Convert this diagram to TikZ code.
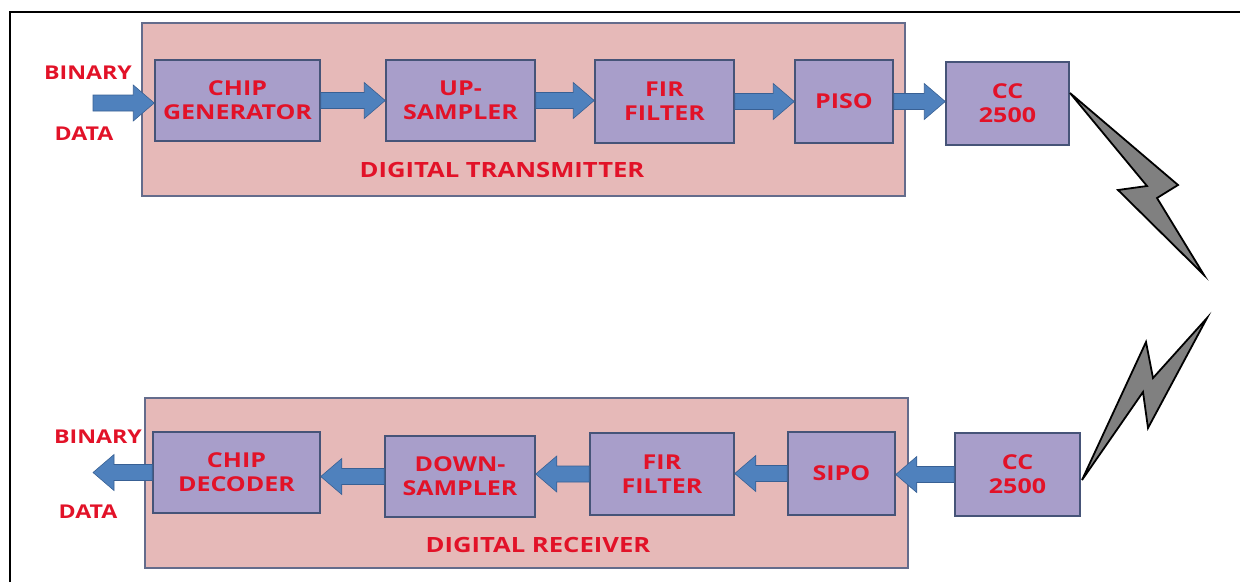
\documentclass[tikz,border=0pt]{standalone}
\usepackage{fontspec}
\setmainfont{Open Sans}[FakeStretch=1.22]
\usetikzlibrary{calc}

\definecolor{bigfill}{RGB}{230,185,184}
\definecolor{bigline}{RGB}{100,108,140}
\definecolor{boxfill}{RGB}{168,158,202}
\definecolor{boxline}{RGB}{70,84,120}
\definecolor{arrowfill}{RGB}{79,129,189}
\definecolor{arrowline}{RGB}{56,96,148}
\definecolor{labelred}{RGB}{226,18,40}
\definecolor{boltfill}{RGB}{128,128,128}

\tikzset{
  block/.style={draw=bigline, fill=bigfill, line width=1.5pt, inner sep=0pt},
  stage/.style={draw=boxline, fill=boxfill, line width=1.5pt, inner sep=0pt, align=center,
    text=labelred, font=\fontsize{20.5}{24}\selectfont\bfseries},
  redlbl/.style={text=labelred, inner sep=0pt, font=\fontsize{19}{23}\selectfont\bfseries},
  titlelbl/.style={text=labelred, inner sep=0pt, font=\fontsize{21}{25}\selectfont\bfseries},
  fatarrow/.style={draw=arrowline, fill=arrowfill, line width=0.6pt,
    to path={let \p1=(\tikztostart), \p2=(\tikztotarget),
      \n1={\x2>\x1 ? \x2-21pt : \x2+21pt} in
      (\x1,\y1+8pt) -- ({\n1*1pt},\y1+8pt) -- ({\n1*1pt},\y1+18pt) -- (\x2,\y1)
      -- ({\n1*1pt},\y1-18pt) -- ({\n1*1pt},\y1-8pt) -- (\x1,\y1-8pt) -- cycle}},
  bolt/.style={draw=black, fill=boltfill, line width=1.8pt, line join=miter}
}

\begin{document}
\begin{tikzpicture}[x=1pt,y=1pt,yscale=-1,xscale=1]
\useasboundingbox (0,0) rectangle (1240,582);

%Frame
\draw [line width=2pt] (10,582) -- (10,12) -- (1240,12) ;

%Shape: Rectangle -- transmitter
\node [block, minimum width=763pt, minimum height=173pt] (tx) at (523.5,109.5) {};
\node [stage, minimum width=165pt, minimum height=81pt] (chipgen) at (237.5,100.5) {CHIP\\GENERATOR};
\node [stage, minimum width=149pt, minimum height=81pt] (upsamp) at (460.5,100.5) {UP-\\SAMPLER};
\node [stage, minimum width=139pt, minimum height=83pt] (firtx) at (664.5,101.5) {FIR\\FILTER};
\node [stage, minimum width=98pt, minimum height=83pt] (piso) at (844,101.5) {PISO};
\node [stage, minimum width=123pt, minimum height=83pt] (cctx) at (1007.5,103.5) {CC\\2500};

%Shape: Rectangle -- receiver
\node [block, minimum width=763pt, minimum height=170pt] (rx) at (526.5,483) {};
\node [stage, minimum width=167pt, minimum height=81pt] (chipdec) at (236.5,472.5) {CHIP\\DECODER};
\node [stage, minimum width=150pt, minimum height=81pt] (downsamp) at (460,476.5) {DOWN-\\SAMPLER};
\node [stage, minimum width=144pt, minimum height=82pt] (firrx) at (662,474) {FIR\\FILTER};
\node [stage, minimum width=107pt, minimum height=83pt] (sipo) at (841.5,473.5) {SIPO};
\node [stage, minimum width=125pt, minimum height=83pt] (ccrx) at (1017.5,474.5) {CC\\2500};

% Text Node
\node [redlbl] (bintx) at (88,73) {BINARY};
\node [redlbl] (datatx) at (84,134) {DATA};
\node [redlbl] (binrx) at (98,437) {BINARY};
\node [redlbl] (datarx) at (88,512) {DATA};
\node [titlelbl] (txlbl) at (502,170) {DIGITAL TRANSMITTER};
\node [titlelbl] (rxlbl) at (538,545) {DIGITAL RECEIVER};

%Block arrows
\coordinate (datain) at (93,103);
\coordinate (dataout) at (93,476);
\draw [fatarrow] (datain) to (chipgen.west);
\draw [fatarrow] (chipgen.east) to (upsamp.west);
\draw [fatarrow] (upsamp.east) to (firtx.west);
\draw [fatarrow] (firtx.east) to (piso.west);
\draw [fatarrow] (piso.east) to (cctx.west);
\draw [fatarrow] (ccrx.west) to (sipo.east);
\draw [fatarrow] (sipo.west) to (firrx.east);
\draw [fatarrow] (firrx.west) to (downsamp.east);
\draw [fatarrow] (downsamp.west) to (chipdec.east);
\draw [fatarrow] (chipdec.west) to (dataout);

%Shape: Lightning
\draw [bolt] (1070,93) -- (1178,185) -- (1157,198) -- (1204,275) -- (1118,190) -- (1147,186) -- cycle ;
\draw [bolt] (1082,480) -- (1146,342) -- (1153,378) -- (1207,318) -- (1148,428) -- (1143,392) -- cycle ;

\end{tikzpicture}
\end{document}
